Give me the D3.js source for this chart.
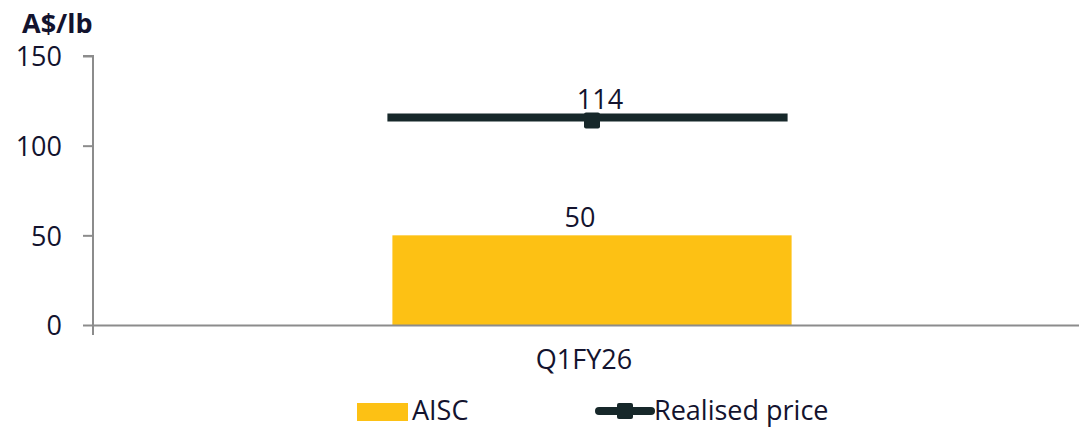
<!DOCTYPE html>
<html>
<head>
<meta charset="utf-8">
<script src="https://cdn.jsdelivr.net/npm/d3@7"></script>
<style>
  body { margin: 0; background: #fff; }
  svg text { font-family: "Open Sans", Lato, sans-serif; fill: #13132e; }
</style>
</head>
<body>
<script>
// chart data
const categories = ['Q1FY26'];
const aisc = [50];
const realisedPrice = [114];
const yTicks = [0, 50, 100, 150];

const W = 1079, H = 428;
const margin = { top: 56, right: -12, bottom: 103, left: 93 };
const innerW = W - margin.left - margin.right;
const innerH = H - margin.top - margin.bottom;
const fs = 27;

const svg = d3.select('body').append('svg')
  .attr('width', W)
  .attr('height', H);

const g = svg.append('g')
  .attr('transform', `translate(${margin.left},${margin.top})`);

const x = d3.scaleBand().domain(categories).range([0, innerW]).paddingInner(0).paddingOuter(0);
const y = d3.scaleLinear().domain([0, 150]).range([innerH, 0]);

const barW = x.bandwidth() * 0.4;

// bars
g.selectAll('.bar')
  .data(categories)
  .enter()
  .append('rect')
  .attr('class', 'bar')
  .attr('x', (d) => x(d) + (x.bandwidth() - barW) / 2)
  .attr('y', (d, i) => y(aisc[i]))
  .attr('width', barW)
  .attr('height', (d, i) => y(0) - y(aisc[i]))
  .attr('fill', '#fdc114');

g.selectAll('.bar-label')
  .data(categories)
  .enter()
  .append('text')
  .attr('x', (d) => x(d) + x.bandwidth() / 2 - 12)
  .attr('y', (d, i) => y(aisc[i]) - 8)
  .attr('text-anchor', 'middle')
  .attr('font-size', fs)
  .text((d, i) => aisc[i]);

// realised price line (spans the bar width)
g.selectAll('.price-line')
  .data(categories)
  .enter()
  .append('line')
  .attr('x1', (d) => x(d) + (x.bandwidth() - barW) / 2 - 5)
  .attr('x2', (d) => x(d) + (x.bandwidth() + barW) / 2 - 4)
  .attr('y1', (d, i) => y(realisedPrice[i]) - 3)
  .attr('y2', (d, i) => y(realisedPrice[i]) - 3)
  .attr('stroke', '#17282a')
  .attr('stroke-width', 8);

g.selectAll('.price-marker')
  .data(categories)
  .enter()
  .append('rect')
  .attr('x', (d) => x(d) + x.bandwidth() / 2 - 8)
  .attr('y', (d, i) => y(realisedPrice[i]) - 8)
  .attr('width', 16)
  .attr('height', 16)
  .attr('rx', 2)
  .attr('fill', '#17282a');

g.selectAll('.price-label')
  .data(categories)
  .enter()
  .append('text')
  .attr('x', (d) => x(d) + x.bandwidth() / 2 + 8)
  .attr('y', (d, i) => y(realisedPrice[i]) - 12)
  .attr('text-anchor', 'middle')
  .attr('font-size', fs)
  .text((d, i) => realisedPrice[i]);

// y axis
const yAxis = g.append('g')
  .call(d3.axisLeft(y).tickValues(yTicks).tickSize(10).tickPadding(21));
yAxis.select('.domain').attr('stroke', '#8c8c8c').attr('stroke-width', 2)
  .attr('d', `M-10,0H0V${innerH + 10}`);
yAxis.selectAll('.tick line').attr('stroke', '#8c8c8c').attr('stroke-width', 2);
yAxis.selectAll('.tick text').attr('font-size', fs).attr('dy', '0.36em');

// x axis
const xAxis = g.append('g')
  .attr('transform', `translate(0,${innerH})`)
  .call(d3.axisBottom(x).tickSize(0).tickPadding(25));
xAxis.select('.domain').attr('stroke', '#8c8c8c').attr('stroke-width', 2);
xAxis.selectAll('.tick text').attr('font-size', fs)
  .attr('transform', 'translate(-8,0)');

// unit title
svg.append('text')
  .attr('x', 22)
  .attr('y', 33)
  .attr('font-size', fs)
  .attr('font-weight', 'bold')
  .text('A$/lb');

// legend
const legend = svg.append('g');
legend.append('rect')
  .attr('x', 357).attr('y', 403).attr('width', 51).attr('height', 18)
  .attr('fill', '#fdc114');
legend.append('text')
  .attr('x', 412).attr('y', 420).attr('font-size', fs).text('AISC');
legend.append('line')
  .attr('x1', 599).attr('x2', 651).attr('y1', 411).attr('y2', 411)
  .attr('stroke', '#17282a').attr('stroke-width', 8).attr('stroke-linecap', 'round');
legend.append('rect')
  .attr('x', 617).attr('y', 403).attr('width', 16).attr('height', 16).attr('rx', 2)
  .attr('fill', '#17282a');
legend.append('text')
  .attr('x', 654).attr('y', 420).attr('font-size', fs).text('Realised price');
</script>
</body>
</html>
